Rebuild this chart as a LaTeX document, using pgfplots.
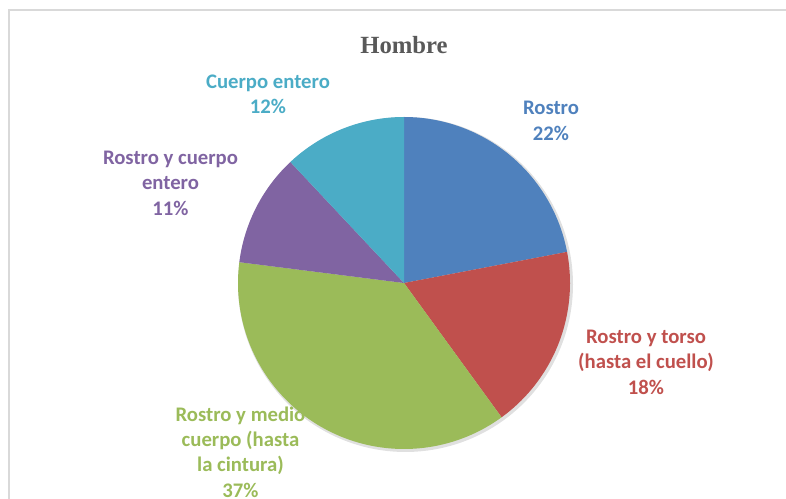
\documentclass[border=0pt]{standalone}
\usepackage{fontspec}
\setmainfont{Liberation Serif}
\newfontfamily\labfont{Carlito}
\usepackage{pgfplots}
\usepackage{pgfplotstable}
\pgfplotsset{compat=1.18}

\definecolor{cRostro}{HTML}{4F81BD}
\definecolor{cTorso}{HTML}{C0504D}
\definecolor{cMedio}{HTML}{9BBB59}
\definecolor{cRcuerpo}{HTML}{8064A2}
\definecolor{cCuerpo}{HTML}{4BACC6}
\definecolor{chartframe}{HTML}{D9D9D9}
\definecolor{titlegray}{HTML}{595959}

% shares of the pie, in %, clockwise from twelve o'clock
\pgfplotstableread{
pct
22
18
37
11
12
}\piedata

\pgfplotstablegetelem{0}{pct}\of\piedata \let\pA\pgfplotsretval
\pgfplotstablegetelem{1}{pct}\of\piedata \let\pB\pgfplotsretval
\pgfplotstablegetelem{2}{pct}\of\piedata \let\pC\pgfplotsretval
\pgfplotstablegetelem{3}{pct}\of\piedata \let\pD\pgfplotsretval
\pgfplotstablegetelem{4}{pct}\of\piedata \let\pE\pgfplotsretval

\pgfmathsetmacro\aA{90}
\pgfmathsetmacro\aB{\aA-3.6*\pA}
\pgfmathsetmacro\aC{\aB-3.6*\pB}
\pgfmathsetmacro\aD{\aC-3.6*\pC}
\pgfmathsetmacro\aE{\aD-3.6*\pD}
\pgfmathsetmacro\aF{\aE-3.6*\pE}

\def\cx{404}
\def\cy{216}
\def\R{166}

\tikzset{lab/.style={font={\labfont\bfseries\fontsize{20.8}{25.5}\selectfont}, align=center, inner sep=0pt}}

\begin{document}
\begin{tikzpicture}
\useasboundingbox (0,0) rectangle (786bp,499bp);
\begin{axis}[
    at={(0,0)}, anchor=south west,
    scale only axis,
    width=786bp, height=499bp,
    xmin=0, xmax=786, ymin=0, ymax=499,
    hide axis,
    clip=false,
]
  % frame of the chart area
  \draw[chartframe, line width=1.4bp] (9,0) -- (9,489) -- (786,489);

  % pie shadow
  \addplot[fill=black!12, draw=none, samples=180, domain=0:360, variable=\t]
    ({\cx+1.5+(\R+1.5)*cos(\t)}, {\cy-1.5+(\R+1.5)*sin(\t)}) -- cycle;

  \addplot[fill=cRostro, draw=none, samples=90, domain=\aB:\aA, variable=\t]
    ({\cx+\R*cos(\t)}, {\cy+\R*sin(\t)}) -- (\cx,\cy) -- cycle;
  \addplot[fill=cTorso, draw=none, samples=90, domain=\aC:\aB, variable=\t]
    ({\cx+\R*cos(\t)}, {\cy+\R*sin(\t)}) -- (\cx,\cy) -- cycle;
  \addplot[fill=cMedio, draw=none, samples=120, domain=\aD:\aC, variable=\t]
    ({\cx+\R*cos(\t)}, {\cy+\R*sin(\t)}) -- (\cx,\cy) -- cycle;
  \addplot[fill=cRcuerpo, draw=none, samples=60, domain=\aE:\aD, variable=\t]
    ({\cx+\R*cos(\t)}, {\cy+\R*sin(\t)}) -- (\cx,\cy) -- cycle;
  \addplot[fill=cCuerpo, draw=none, samples=60, domain=\aF:\aE, variable=\t]
    ({\cx+\R*cos(\t)}, {\cy+\R*sin(\t)}) -- (\cx,\cy) -- cycle;

  \node[font={\bfseries\fontsize{24.8}{28}\selectfont}, text=titlegray] at (404,454) {Hombre};

  \node[lab, text=cCuerpo]  at (268,404.5) {Cuerpo entero\\12\%};
  \node[lab, text=cRostro]  at (551,378) {Rostro\\22\%};
  \node[lab, text=cRcuerpo] at (170.5,316) {Rostro y cuerpo\\entero\\11\%};
  \node[lab, text=cTorso]   at (646,137) {Rostro y torso\\(hasta el cuello)\\18\%};
  \node[lab, text=cMedio]   at (240.5,47) {Rostro y medio\\cuerpo (hasta\\la cintura)\\37\%};
\end{axis}
\end{tikzpicture}
\end{document}
